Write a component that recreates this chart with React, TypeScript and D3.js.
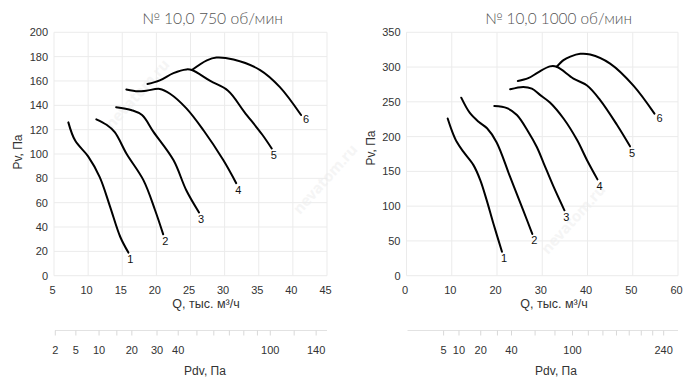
import React from 'react';
import * as d3 from 'd3';

// Dynamic pressure coefficient: Pdv = K * Q^2 (fan size 10,0)
const K_PDV = 0.0743;

// ---- 750 rpm chart ----
const q750Ticks = [5, 10, 15, 20, 25, 30, 35, 40, 45];
const p750Ticks = [0, 20, 40, 60, 80, 100, 120, 140, 160, 180, 200];
const pdv750Ticks = [2, 5, 10, 15, 20, 30, 40, 50, 60, 70, 80, 90, 100, 120, 140];
const pdv750Labels = [2, 5, 10, 20, 30, 40, 100, 140];
const c750_1: [number, number][] = [[7.1, 126], [8.1, 111], [10.0, 98], [11.7, 81], [13.2, 57], [14.7, 32], [15.9, 19]];
const c750_2: [number, number][] = [[11.2, 128.5], [12.7, 124], [13.9, 118], [15.65, 100], [18.1, 78.5], [19.8, 54], [21.0, 34]];
const c750_3: [number, number][] = [[14.1, 138.5], [16.4, 136], [17.9, 132], [19.6, 118], [22.5, 95], [24.4, 70], [26.25, 52]];
const c750_4: [number, number][] = [[15.6, 153], [17.3, 151.5], [18.5, 152], [20.5, 153.5], [22.0, 149.5], [24.4, 137.5], [26.9, 119.5], [29.8, 95], [31.7, 76]];
const c750_5: [number, number][] = [[18.7, 157.5], [20.5, 160.5], [22.5, 166.5], [24.4, 169.5], [25.2, 169], [27.9, 160], [30.5, 152], [32.9, 134.5], [35.5, 116], [36.9, 104.5]];
const c750_6: [number, number][] = [[25.2, 169], [27.4, 177], [28.8, 179.3], [31.3, 177.6], [35.2, 169], [38.1, 155], [41.2, 132]];

// ---- 1000 rpm chart ----
const q1000Ticks = [0, 10, 20, 30, 40, 50, 60];
const p1000Ticks = [0, 50, 100, 150, 200, 250, 300, 350];
const pdv1000Ticks = [5, 10, 20, 30, 40, 60, 80, 100, 120, 140, 160, 180, 200, 220, 240];
const pdv1000Labels = [5, 10, 20, 40, 100, 240];
const c1000_1: [number, number][] = [[9.1, 226], [10.0, 209], [11.1, 192.5], [12.6, 178], [14.8, 159], [16.3, 137.5], [17.7, 109], [19.2, 75], [21.1, 34.5]];
const c1000_2: [number, number][] = [[12.1, 256], [14.0, 234], [16.0, 221], [17.8, 212], [19.9, 192], [22.9, 142], [25.8, 94], [27.8, 60]];
const c1000_3: [number, number][] = [[19.4, 244], [22.2, 241], [24.4, 231], [26.9, 207], [28.8, 185], [30.3, 162], [32.5, 128], [34.9, 94]];
const c1000_4: [number, number][] = [[22.9, 268], [25.8, 271.5], [27.7, 269], [29.5, 260], [31.7, 249], [34.7, 226], [37.7, 195], [39.9, 166], [42.2, 138.5]];
const c1000_5: [number, number][] = [[24.6, 280], [26.9, 284], [29.0, 292], [31.7, 301], [33.2, 300.5], [36.9, 283.5], [39.9, 273.5], [42.8, 252.5], [46.5, 217], [49.4, 186]];
const c1000_6: [number, number][] = [[33.2, 300.5], [34.7, 310], [36.2, 315], [38.4, 319], [40.6, 318], [45.0, 305], [50.2, 273], [54.8, 233]];

const curveNames = ['1', '2', '3', '4', '5', '6'];

const FONT = '"Liberation Sans", Arial, sans-serif';

interface PanelProps {
  title: string;
  titleX: number;
  titleLen: number;
  left: number;
  right: number;
  top: number;
  bottom: number;
  qTicks: number[];
  pTicks: number[];
  pdvTicks: number[];
  pdvLabels: number[];
  curves: [number, number][][];
  yTitleX: number;
  yTitleY: number;
  xTitleX: number;
  pdvTitleX: number;
}

function Panel(p: PanelProps) {
  const qDom = d3.extent(p.qTicks) as [number, number];
  const pDom = d3.extent(p.pTicks) as [number, number];
  const x = d3.scaleLinear().domain(qDom).range([p.left, p.right]);
  const y = d3.scaleLinear().domain(pDom).range([p.bottom, p.top]);
  const xPdv = d3
    .scaleSqrt()
    .domain([K_PDV * qDom[0] * qDom[0], K_PDV * qDom[1] * qDom[1]])
    .range([p.left, p.right]);
  const line = d3
    .line<[number, number]>()
    .x((d) => x(d[0]))
    .y((d) => y(d[1]))
    .curve(d3.curveCatmullRom.alpha(0.5));
  const pdvY = 330.5;
  return (
    <g>
      <text
        x={p.titleX}
        y={23.5}
        textLength={p.titleLen}
        lengthAdjust="spacingAndGlyphs"
        fontFamily='Lato, "Noto Sans", sans-serif'
        fontWeight={300}
        fontSize={15}
        fill="#555"
      >
        {p.title}
      </text>
      {/* grid */}
      {p.qTicks.map((t) => (
        <line key={'gx' + t} x1={x(t)} x2={x(t)} y1={p.top} y2={p.bottom} stroke="#ebebeb" strokeWidth={1} />
      ))}
      {p.pTicks.map((t) => (
        <line key={'gy' + t} x1={p.left} x2={p.right} y1={y(t)} y2={y(t)} stroke="#ebebeb" strokeWidth={1} />
      ))}
      {/* y tick labels */}
      {p.pTicks.map((t) => (
        <text key={'ly' + t} x={p.left - 6} y={y(t) + 4} textAnchor="end" fontFamily={FONT} fontSize={11} fill="#333">
          {t}
        </text>
      ))}
      {/* x tick labels */}
      {p.qTicks.map((t) => (
        <text key={'lx' + t} x={x(t) - 1.5} y={294} textAnchor="middle" fontFamily={FONT} fontSize={11} fill="#333">
          {t}
        </text>
      ))}
      <text
        transform={`translate(${p.yTitleX},${p.yTitleY}) rotate(-90)`}
        textAnchor="middle"
        fontFamily={FONT}
        fontSize={12}
        fill="#333"
      >
        Pv, Па
      </text>
      <text x={p.xTitleX} y={307.5} textAnchor="middle" fontFamily={FONT} fontSize={12.5} fill="#333">
        Q, тыс. м³/ч
      </text>
      {/* Pdv axis */}
      <line x1={p.left + 1} x2={p.right} y1={pdvY} y2={pdvY} stroke="#e2e2e2" strokeWidth={1} />
      {p.pdvTicks.map((t) => (
        <line key={'pt' + t} x1={xPdv(t)} x2={xPdv(t)} y1={pdvY} y2={pdvY + 5} stroke="#d8d8d8" strokeWidth={1} />
      ))}
      {p.pdvLabels.map((t) => (
        <text key={'pl' + t} x={xPdv(t)} y={354} textAnchor="middle" fontFamily={FONT} fontSize={11} fill="#333">
          {t}
        </text>
      ))}
      <text x={p.pdvTitleX} y={374.5} textAnchor="middle" fontFamily={FONT} fontSize={12} fill="#333">
        Pdv, Па
      </text>
      {/* curves */}
      {p.curves.map((c, i) => (
        <path key={'c' + i} d={line(c) || ''} fill="none" stroke="#000" strokeWidth={2} strokeLinecap="round" />
      ))}
      {p.curves.map((c, i) => {
        const last = c[c.length - 1];
        const isLast = i === p.curves.length - 1;
        return (
          <text
            key={'n' + i}
            x={x(last[0]) + (isLast ? 5 : 2)}
            y={y(last[1]) + (isLast ? 8 : 10.5)}
            textAnchor="middle"
            fontFamily={FONT}
            fontSize={11}
            fill="#111"
          >
            {curveNames[i]}
          </text>
        );
      })}
    </g>
  );
}

export default function App() {
  return (
    <svg width={700} height={382} style={{ position: 'absolute', left: 0, top: 0, background: '#fff' }}>
      <rect x={0} y={0} width={700} height={382} fill="#fff" />
      {/* faint watermarks */}
      <g fill="#f5f5f5" fontFamily='"Noto Sans", sans-serif' fontWeight={700} fontSize={15}>
        <text transform="translate(112,130) rotate(-48)">nevatom.ru</text>
        <text transform="translate(300,215) rotate(-48)">nevatom.ru</text>
        <text transform="translate(548,255) rotate(-48)">nevatom.ru</text>
      </g>
      <Panel
        title="№ 10,0  750 об/мин"
        titleX={142}
        titleLen={141}
        left={54}
        right={327}
        top={32.3}
        bottom={275.7}
        qTicks={q750Ticks}
        pTicks={p750Ticks}
        pdvTicks={pdv750Ticks}
        pdvLabels={pdv750Labels}
        curves={[c750_1, c750_2, c750_3, c750_4, c750_5, c750_6]}
        yTitleX={22}
        yTitleY={152}
        xTitleX={206}
        pdvTitleX={205}
      />
      <Panel
        title="№ 10,0 1000 об/мин"
        titleX={485}
        titleLen={147}
        left={406.5}
        right={678}
        top={32.3}
        bottom={275.7}
        qTicks={q1000Ticks}
        pTicks={p1000Ticks}
        pdvTicks={pdv1000Ticks}
        pdvLabels={pdv1000Labels}
        curves={[c1000_1, c1000_2, c1000_3, c1000_4, c1000_5, c1000_6]}
        yTitleX={375}
        yTitleY={148}
        xTitleX={554}
        pdvTitleX={556}
      />
    </svg>
  );
}
